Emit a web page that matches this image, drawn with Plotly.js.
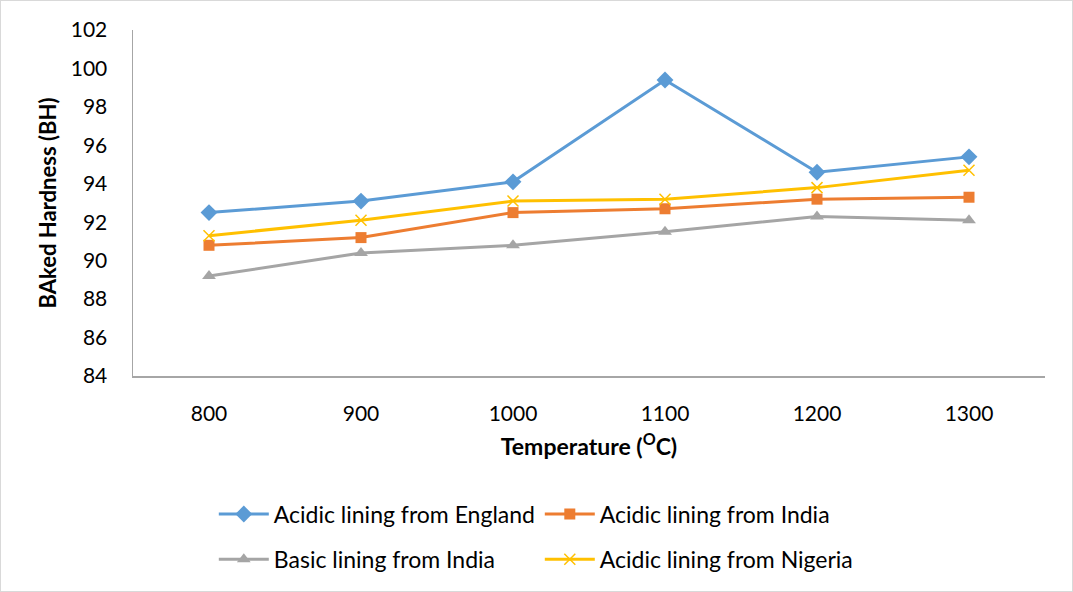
<!DOCTYPE html>
<html>
<head>
<meta charset="utf-8">
<script src="https://cdn.plot.ly/plotly-3.0.1.min.js"></script>
<style>
html,body{margin:0;padding:0;background:#fff;}
#wrap{width:1071px;height:590px;border:1px solid #d9d9d9;}
#chart{width:1071px;height:590px;}
</style>
</head>
<body>
<div id="wrap"><div id="chart"></div></div>
<script>
const temperatures = ['800','900','1000','1100','1200','1300'];
const acidicEngland = [92.5, 93.1, 94.1, 99.4, 94.6, 95.4];
const acidicIndia   = [90.8, 91.2, 92.5, 92.7, 93.2, 93.3];
const basicIndia    = [89.2, 90.4, 90.8, 91.5, 92.3, 92.1];
const acidicNigeria = [91.3, 92.1, 93.1, 93.2, 93.8, 94.7];
const yTicks = [84,86,88,90,92,94,96,98,100,102];

const FONT = 'Lato, "Open Sans", "Liberation Sans", sans-serif';

const traces = [
  {name:'Acidic lining from England', x:temperatures, y:acidicEngland, type:'scatter', mode:'lines+markers',
   line:{color:'#5B9BD5', width:3}, marker:{symbol:'diamond', size:13, color:'#5B9BD5'}, legend:'legend'},
  {name:'Acidic lining from India', x:temperatures, y:acidicIndia, type:'scatter', mode:'lines+markers',
   line:{color:'#ED7D31', width:3}, marker:{symbol:'square', size:11, color:'#ED7D31'}, legend:'legend'},
  {name:'Basic lining from India', x:temperatures, y:basicIndia, type:'scatter', mode:'lines+markers',
   line:{color:'#A5A5A5', width:3}, marker:{symbol:'triangle-up', size:12, color:'#A5A5A5'}, legend:'legend2'},
  {name:'Acidic lining from Nigeria', x:temperatures, y:acidicNigeria, type:'scatter', mode:'lines+markers',
   line:{color:'#FFC000', width:3}, marker:{symbol:'x-thin', size:11, color:'#FFC000', line:{color:'#FFC000', width:1.5}}, legend:'legend2'}
];

const legendCommon = {orientation:'h', xanchor:'left', yanchor:'middle', x:0.0886,
  font:{family:FONT, size:23, color:'#000'}, entrywidth:261, itemwidth:50, bgcolor:'rgba(0,0,0,0)', traceorder:'normal'};

const layout = {
  width:1071, height:590,
  margin:{l:132, r:27, t:29, b:215, autoexpand:false},
  paper_bgcolor:'#fff', plot_bgcolor:'#fff',
  font:{family:FONT, color:'#000'},
  showlegend:true,
  legend:Object.assign({}, legendCommon, {y:-0.399}),
  legend2:Object.assign({}, legendCommon, {y:-0.530}),
  xaxis:{type:'category', range:[-0.5,5.5], showgrid:false, zeroline:false,
    showline:true, linecolor:'#a6a6a6', linewidth:1.5, ticks:'',
    tickfont:{family:FONT, size:21, color:'#000'}, ticklabelstandoff:18,
    title:{text:'<b>Temperature (<sup>O</sup>C)</b>', font:{family:FONT, size:23, color:'#000'}, standoff:15}},
  yaxis:{range:[84,102], tickvals:yTicks, showgrid:false, zeroline:false,
    showline:true, linecolor:'#a6a6a6', linewidth:1.5, ticks:'',
    tickfont:{family:FONT, size:21, color:'#000'}, ticklabelstandoff:20,
    title:{text:'<b>BAked Hardness (BH)</b>', font:{family:FONT, size:22, color:'#000'}, standoff:8}}
};

Plotly.newPlot('chart', traces, layout, {displayModeBar:false, staticPlot:true});
</script>
</body>
</html>
